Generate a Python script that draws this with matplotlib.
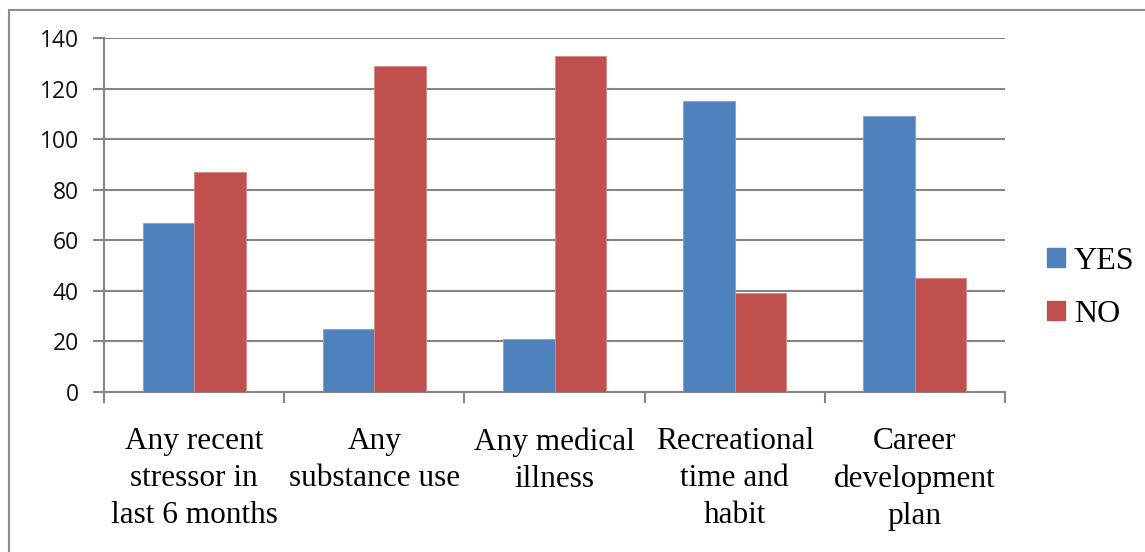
import matplotlib
matplotlib.use("Agg")
import matplotlib.pyplot as plt
from matplotlib.lines import Line2D
from matplotlib.patches import Patch
import numpy as np

categories = [
    "Any recent\nstressor in\nlast 6 months",
    "Any\nsubstance use",
    "Any medical\nillness",
    "Recreational\ntime and\nhabit",
    "Career\ndevelopment\nplan",
]
yes_values = [67, 25, 21, 115, 109]
no_values = [87, 129, 133, 39, 45]
series_names = ["YES", "NO"]
y_ticks = [0, 20, 40, 60, 80, 100, 120, 140]

BLUE = "#4F81BD"
RED = "#C0504D"
GRID = "#868686"

W, H = 1145, 552
fig = plt.figure(figsize=(W / 100, H / 100), dpi=100)

# chart-area frame (top and left edges)
fig.add_artist(Line2D([9 / W, 9 / W], [0, 1 - 10 / H], transform=fig.transFigure,
                      color="#8c8c8c", lw=1.5))
fig.add_artist(Line2D([9 / W, 1], [1 - 10 / H, 1 - 10 / H], transform=fig.transFigure,
                      color="#8c8c8c", lw=1.5))

x0, x1 = 104, 1005
y_top, y_bot = 38, 392
ax = fig.add_axes([x0 / W, 1 - y_bot / H, (x1 - x0) / W, (y_bot - y_top) / H])

n = len(categories)
x = np.arange(n)
bw = 1 / 3.5
ax.bar(x - bw / 2, yes_values, bw, color=BLUE, edgecolor="#7fa3d3", linewidth=0.6,
       zorder=3, label=series_names[0])
ax.bar(x + bw / 2, no_values, bw, color=RED, edgecolor="#d88a88", linewidth=0.6,
       zorder=3, label=series_names[1])

ax.set_xlim(-0.5, n - 0.5)
ax.set_ylim(0, 140)
ax.set_yticks(y_ticks)
ax.yaxis.grid(True, color=GRID, lw=1.5, zorder=0)
ax.tick_params(axis="y", length=8, width=1.5, color=GRID, pad=10,
               labelsize=16.5, labelcolor="#111111")
for lbl in ax.get_yticklabels():
    lbl.set_fontfamily("Open Sans")

# category boundary ticks on x axis
ax.set_xticks(np.arange(-0.5, n, 1.0))
ax.set_xticklabels([])
ax.tick_params(axis="x", length=8, width=1.5, color=GRID)
for i, c in enumerate(categories):
    ax.text(i, -14.0, c, ha="center", va="top", fontsize=22.5,
            family="Liberation Serif", linespacing=1.36)

for s in ["top", "right"]:
    ax.spines[s].set_visible(False)
for s in ["left", "bottom"]:
    ax.spines[s].set_color(GRID)
    ax.spines[s].set_linewidth(1.5)

handles = [Patch(color=BLUE), Patch(color=RED)]
leg = fig.legend(handles, series_names, loc="center left",
                 bbox_to_anchor=(1031 / W, 1 - 288 / H), frameon=False,
                 prop={"family": "Liberation Serif", "size": 23},
                 handlelength=0.55, handleheight=0.55, handletextpad=0.3,
                 labelspacing=0.75, borderpad=0)

fig.savefig("out.png", dpi=100)
